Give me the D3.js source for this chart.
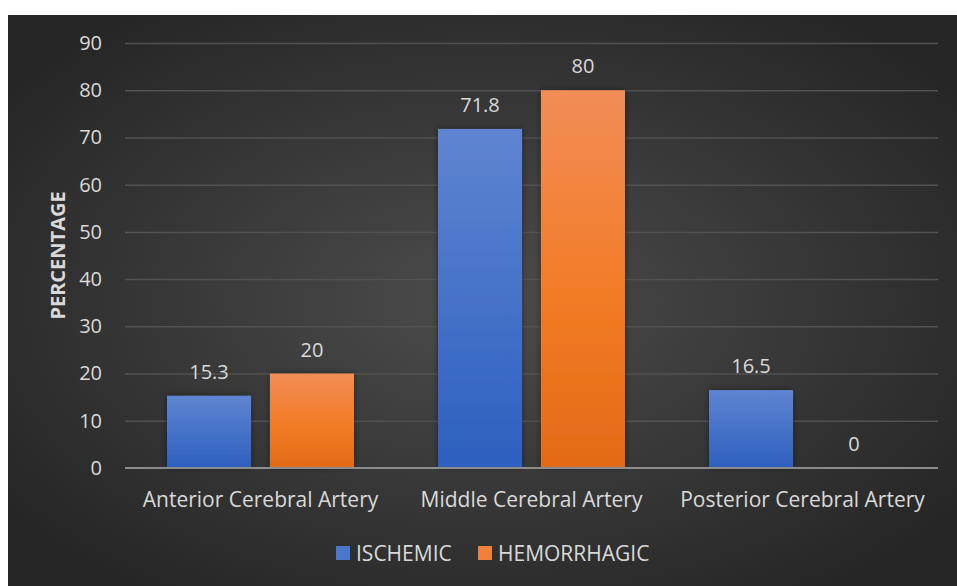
<!DOCTYPE html>
<html>
<head>
<meta charset="utf-8">
<script src="https://cdn.jsdelivr.net/npm/d3@7"></script>
<style>
  body { margin: 0; background: #fff; }
  text { font-family: "Open Sans", sans-serif; fill: #d9d9d9; }
</style>
</head>
<body>
<div id="chart"></div>
<script>
const categories = ["Anterior Cerebral Artery", "Middle Cerebral Artery", "Posterior Cerebral Artery"]
const seriesNames = ["ISCHEMIC", "HEMORRHAGIC"]
const ischemic = [15.3, 71.8, 16.5]
const hemorrhagic = [20, 80, 0]
const yTicks = [0, 10, 20, 30, 40, 50, 60, 70, 80, 90]

const WIDTH = 957
const HEIGHT = 586
const margin = {top: 43, right: 19, bottom: 118, left: 125};
const width = WIDTH - margin.left - margin.right;
const height = HEIGHT - margin.top - margin.bottom;

const svg = d3.select('#chart')
    .append('svg')
        .attr('width', WIDTH)
        .attr('height', HEIGHT)

const defs = svg.append('defs')

// fondo oscuro con gradiente radial
const bg = defs.append('radialGradient').attr('id', 'bg')
    .attr('cx', '50%').attr('cy', '50%').attr('r', '62%')
bg.append('stop').attr('offset', '0%').attr('stop-color', '#4c4c4c')
bg.append('stop').attr('offset', '100%').attr('stop-color', '#262626')

const gradBlue = defs.append('linearGradient').attr('id', 'gBlue')
    .attr('x1', 0).attr('y1', 0).attr('x2', 0).attr('y2', 1)
gradBlue.append('stop').attr('offset', '0%').attr('stop-color', '#5f85d2')
gradBlue.append('stop').attr('offset', '100%').attr('stop-color', '#2d5fbe')

const gradOrange = defs.append('linearGradient').attr('id', 'gOrange')
    .attr('x1', 0).attr('y1', 0).attr('x2', 0).attr('y2', 1)
gradOrange.append('stop').attr('offset', '0%').attr('stop-color', '#f28d57')
gradOrange.append('stop').attr('offset', '55%').attr('stop-color', '#f27b26')
gradOrange.append('stop').attr('offset', '100%').attr('stop-color', '#e36a17')

const shadow = defs.append('filter').attr('id', 'shadow')
    .attr('x', '-20%').attr('y', '-20%').attr('width', '140%').attr('height', '140%')
shadow.append('feDropShadow').attr('dx', 0).attr('dy', 0).attr('stdDeviation', 3)
    .attr('flood-color', '#000').attr('flood-opacity', 0.45)

svg.append('rect')
    .attr('x', 8).attr('y', 15)
    .attr('width', WIDTH - 8).attr('height', HEIGHT - 15)
    .attr('fill', 'url(#bg)')

const container = svg.append('g')
    .attr('transform', `translate(${margin.left},${margin.top})`)

const x0 = d3.scaleBand().domain(categories).range([0, width]).padding(0)
const x1 = d3.scaleBand().domain(seriesNames).range([0, x0.bandwidth()])
    .paddingInner(0.184).paddingOuter(0.408)
const yscale = d3.scaleLinear().domain([0, 90]).range([height, 0])

const colors = {ISCHEMIC: 'url(#gBlue)', HEMORRHAGIC: 'url(#gOrange)'}
const legendColors = {ISCHEMIC: '#4a77c9', HEMORRHAGIC: '#f0803a'}

// lineas de grilla
const axisLeft = d3.axisLeft(yscale).tickValues(yTicks).tickSize(-width).tickPadding(23)
const yAxis = container.append('g').call(axisLeft)
yAxis.select('.domain').remove()
yAxis.selectAll('.tick line').attr('stroke', '#525252').attr('stroke-width', 1.5)
yAxis.selectAll('.tick text').style('font-size', '20px').attr('fill', '#d9d9d9')
yAxis.selectAll('.tick').filter(d => d === 0).select('line').attr('stroke', 'none')

const rows = categories.map((c, i) => ({category: c, values: [
    {series: seriesNames[0], value: ischemic[i]},
    {series: seriesNames[1], value: hemorrhagic[i]}
]}))

const groups = container.selectAll('.cat').data(rows).enter().append('g')
    .attr('transform', d => `translate(${x0(d.category)},0)`)

groups.selectAll('rect').data(d => d.values).enter().append('rect')
    .attr('x', d => x1(d.series))
    .attr('y', d => yscale(d.value))
    .attr('width', x1.bandwidth())
    .attr('height', d => height - yscale(d.value))
    .attr('fill', d => colors[d.series])
    .attr('filter', 'url(#shadow)')

groups.selectAll('.lbl').data(d => d.values).enter().append('text')
    .attr('x', d => x1(d.series) + x1.bandwidth() / 2)
    .attr('y', d => yscale(d.value) - 17)
    .attr('text-anchor', 'middle')
    .style('font-size', '20px')
    .text(d => d.value)

// eje x
container.append('line')
    .attr('x1', 0).attr('x2', width)
    .attr('y1', height).attr('y2', height)
    .attr('stroke', '#8c8c8c').attr('stroke-width', 2)

const axisBottom = d3.axisBottom(x0).tickSize(0).tickPadding(24)
const xAxis = container.append('g').attr('transform', `translate(0,${height})`).call(axisBottom)
xAxis.select('.domain').remove()
xAxis.selectAll('.tick text').style('font-size', '21px').attr('fill', '#d9d9d9')

// nombre del eje y
svg.append('text')
    .attr('transform', `translate(65,${margin.top + height / 2}) rotate(-90)`)
    .attr('text-anchor', 'middle')
    .style('font-size', '20px')
    .style('font-weight', 'bold')
    .text('PERCENTAGE')

// leyenda
const legend = svg.append('g').attr('transform', 'translate(336,561)')
const legendX = [0, 142]
seriesNames.forEach((s, i) => {
    const g = legend.append('g').attr('transform', `translate(${legendX[i]},0)`)
    g.append('rect').attr('x', 0).attr('y', -15).attr('width', 14).attr('height', 14)
        .attr('fill', legendColors[s])
    g.append('text').attr('x', 20).attr('y', 0).style('font-size', '21px').text(s)
})
</script>
</body>
</html>
